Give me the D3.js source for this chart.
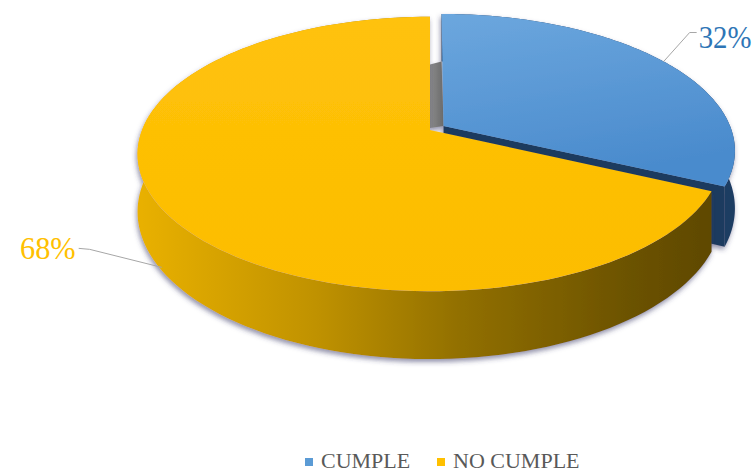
<!DOCTYPE html>
<html>
<head>
<meta charset="utf-8">
<script src="https://cdn.jsdelivr.net/npm/d3@7"></script>
<style>
  html, body { margin: 0; padding: 0; background: #ffffff; }
  svg { display: block; }
  text { font-family: "Liberation Serif", "DejaVu Serif", "Times New Roman", serif; }
</style>
</head>
<body>
<svg id="chart" width="756" height="473"></svg>
<script>
// ---- data ----
const categories = ["CUMPLE", "NO CUMPLE"];
const values = [32, 68];
const valueLabels = ["32%", "68%"];

// ---- style / layout ----
const CX = 430, CY = 130;     // projected centre of the pie
const RX = 288, RY = 133;     // radii of the top face
const K = 0.175;              // perspective factor
const DEPTH = 56;             // thickness of the pie
const EXPLODE = [0.056, 0];   // explode distance per slice (unit radius)
const topColors = ["#5B9BD5", "#FFC000"];
const labelColors = ["#2E75B6", "#FFC000"];

const svg = d3.select("#chart");
const defs = svg.append("defs");

const gBlueTop = defs.append("linearGradient").attr("id", "blueTop")
  .attr("x1", 0).attr("y1", 0).attr("x2", 0.3).attr("y2", 1);
gBlueTop.append("stop").attr("offset", 0).attr("stop-color", "#6CA7DE");
gBlueTop.append("stop").attr("offset", 1).attr("stop-color", "#4A8BCD");

const gYellowTop = defs.append("linearGradient").attr("id", "yellowTop")
  .attr("x1", 0).attr("y1", 0).attr("x2", 0).attr("y2", 1);
gYellowTop.append("stop").attr("offset", 0).attr("stop-color", "#FFC20A");
gYellowTop.append("stop").attr("offset", 1).attr("stop-color", "#FCBD00");

const gYellowSide = defs.append("linearGradient").attr("id", "yellowSide")
  .attr("gradientUnits", "userSpaceOnUse")
  .attr("x1", CX - RX).attr("y1", 0).attr("x2", CX + RX).attr("y2", 0);
[[0, "#E8B000"], [0.3, "#C09200"], [0.55, "#927000"], [0.85, "#6B5200"], [1, "#5E4800"]]
  .forEach(([o, c]) => gYellowSide.append("stop").attr("offset", o).attr("stop-color", c));

const gGrey = defs.append("linearGradient").attr("id", "greyFace")
  .attr("x1", 0).attr("y1", 0).attr("x2", 1).attr("y2", 0);
gGrey.append("stop").attr("offset", 0).attr("stop-color", "#8C8C8C");
gGrey.append("stop").attr("offset", 1).attr("stop-color", "#6A6A6A");

const shadow = defs.append("filter").attr("id", "shadow")
  .attr("x", "-10%").attr("y", "-10%").attr("width", "120%").attr("height", "130%");
shadow.append("feDropShadow").attr("dx", -1).attr("dy", 3).attr("stdDeviation", 2.5)
  .attr("flood-color", "#3A3A66").attr("flood-opacity", 0.55);

function proj(u, v, dz) {
  const s = 1 / (1 - K * v);
  return [CX + RX * u * s, CY + RY * v * s + dz * s];
}

const pie = d3.pie().sort(null).startAngle(0).endAngle(2 * Math.PI)(values);
const line = d3.line();

function sliceGeom(d, i) {
  const t0 = d.startAngle - Math.PI / 2, t1 = d.endAngle - Math.PI / 2;
  const tm = (t0 + t1) / 2;
  const ou = EXPLODE[i] * Math.cos(tm), ov = EXPLODE[i] * Math.sin(tm);
  const n = 120;
  const ts = d3.range(n + 1).map(j => t0 + (t1 - t0) * j / n);
  const rim = (dz) => ts.map(t => proj(ou + Math.cos(t), ov + Math.sin(t), dz));
  return { t0, t1, tm, ou, ov, ts, rim };
}

const geoms = pie.map(sliceGeom);

// ---- blue slice (back) ----
(function () {
  const g = geoms[0];
  const grp = svg.append("g").attr("filter", "url(#shadow)");
  const top = g.rim(0), bot = g.rim(DEPTH);
  grp.append("path").attr("d", line(top.concat(bot.slice().reverse())) + "Z")
    .attr("fill", "#1F3C62");
  const cT = proj(g.ou, g.ov, 0), cB = proj(g.ou, g.ov, DEPTH);
  const eT = top[top.length - 1], eB = bot[bot.length - 1];
  grp.append("path").attr("d", line([cT, eT, eB, cB]) + "Z").attr("fill", "#1E3A5E");
  const yEdge = proj(0, 0, 0)[0];
  const sT = top[0], sB = bot[0];
  grp.append("path").attr("d", line([
    [yEdge, sB[1] + 3], [sT[0], sB[1]], [cT[0], cT[1]], [yEdge, cT[1] + 2]
  ]) + "Z").attr("fill", "url(#greyFace)");
  grp.append("path").attr("d", line([cT].concat(top)) + "Z").attr("fill", "url(#blueTop)");
})();

// ---- yellow slice (front) ----
(function () {
  const g = geoms[1];
  const grp = svg.append("g").attr("filter", "url(#shadow)");
  const top = g.rim(0), bot = g.rim(DEPTH);
  grp.append("path").attr("d", line(top.concat(bot.slice().reverse())) + "Z")
    .attr("fill", "url(#yellowSide)");
  const cT = proj(g.ou, g.ov, 0);
  grp.append("path").attr("d", line([cT].concat(top)) + "Z").attr("fill", "url(#yellowTop)");
})();

// ---- data labels with leader lines ----
const labelSpec = [
  { dz: 0, elbow: [26, -29], end: [33, -29], text: [35, -25], anchor: "start", weight: "normal", scale: 0.9 },
  { dz: 0.95, elbow: [-72, -18], end: [-83, -19], text: [-86, -20], anchor: "end", weight: "normal", scale: 0.95 }
];
geoms.forEach((g, i) => {
  const sp = labelSpec[i];
  const p = proj(g.ou + Math.cos(g.tm), g.ov + Math.sin(g.tm), DEPTH * sp.dz);
  const e = [p[0] + sp.elbow[0], p[1] + sp.elbow[1]];
  const f = [p[0] + sp.end[0], p[1] + sp.end[1]];
  svg.append("path").attr("d", line([p, e, f])).attr("fill", "none")
    .attr("stroke", "#A6A6A6").attr("stroke-width", 1);
  const tx = p[0] + sp.text[0], ty = p[1] + sp.text[1];
  svg.append("text")
    .attr("transform", `translate(${tx},${ty}) scale(${sp.scale},1)`)
    .attr("dy", "0.35em")
    .attr("text-anchor", sp.anchor)
    .attr("font-size", 32)
    .attr("font-weight", sp.weight)
    .attr("fill", labelColors[i])
    .text(valueLabels[i]);
});

// ---- legend ----
const legend = svg.append("g").attr("transform", "translate(305,458)");
const legendX = [0, 132];
categories.forEach((c, i) => {
  const item = legend.append("g").attr("transform", `translate(${legendX[i]},0)`);
  item.append("rect").attr("width", 8).attr("height", 8).attr("y", 0).attr("fill", topColors[i]);
  item.append("text").attr("x", 16).attr("y", 10)
    .attr("font-size", 22).attr("fill", "#595959")
    .text(c);
});
</script>
</body>
</html>
